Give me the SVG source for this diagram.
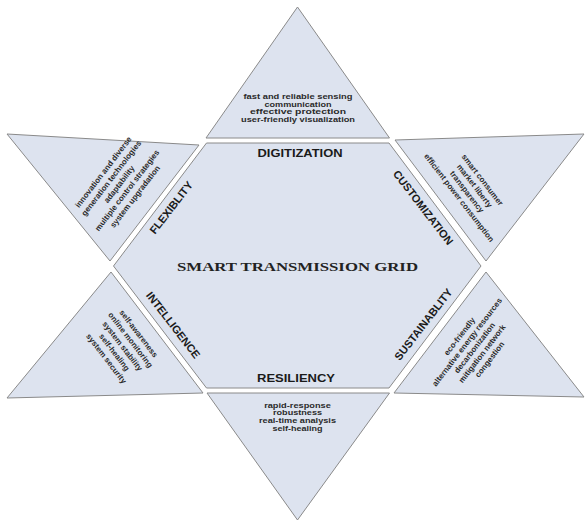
<svg xmlns="http://www.w3.org/2000/svg" width="585" height="522" viewBox="0 0 585 522">
<style>
.shape{fill:#dde3ef;stroke:#8a8a8a;stroke-width:1;stroke-linejoin:miter}
.lbl{font-family:"Liberation Sans",Arial,sans-serif;font-weight:bold;font-size:11px;fill:#1a1a1a;text-anchor:middle}
.item{font-family:"Liberation Sans",Arial,sans-serif;font-weight:bold;font-size:8px;fill:#2a2a2a;text-anchor:middle}
.itemh{font-family:"Liberation Sans",Arial,sans-serif;font-weight:bold;font-size:7.5px;fill:#2a2a2a;text-anchor:middle}
.title{font-family:"Liberation Serif","Times New Roman",serif;font-weight:bold;font-size:13.5px;fill:#222;text-anchor:middle}
</style>
<rect width="585" height="522" fill="#ffffff"/>
<g id="connectors"/>
<g id="hub">
<polygon class="shape" points="206.5,143 389,143 481,266 389,388 206.5,388 113.5,266"/>
<text class="title" x="297.5" y="270.5" textLength="241" lengthAdjust="spacingAndGlyphs">SMART TRANSMISSION GRID</text>
</g>
<g id="digitization">
<polygon class="shape" points="297.5,7 389.5,138 206,138"/>
<text class="itemh" x="298" y="99" textLength="109" lengthAdjust="spacingAndGlyphs">fast and reliable sensing</text>
<text class="itemh" x="298" y="106.7" textLength="67" lengthAdjust="spacingAndGlyphs">communication</text>
<text class="itemh" x="298" y="114.4" textLength="96" lengthAdjust="spacingAndGlyphs">effective protection</text>
<text class="itemh" x="298" y="122.2" textLength="114" lengthAdjust="spacingAndGlyphs">user-friendly visualization</text>
<text class="lbl" x="300" y="156.5" textLength="85" lengthAdjust="spacingAndGlyphs">DIGITIZATION</text>
</g>
<g id="resiliency">
<polygon class="shape" points="207,393 389.5,393 297.5,520"/>
<text class="itemh" x="297.5" y="407.5" textLength="66.7" lengthAdjust="spacingAndGlyphs">rapid-response</text>
<text class="itemh" x="297.5" y="415.2" textLength="49" lengthAdjust="spacingAndGlyphs">robustness</text>
<text class="itemh" x="297.5" y="422.9" textLength="77" lengthAdjust="spacingAndGlyphs">real-time analysis</text>
<text class="itemh" x="297.5" y="430.5" textLength="50" lengthAdjust="spacingAndGlyphs">self-healing</text>
<text class="lbl" x="296" y="382" textLength="78" lengthAdjust="spacingAndGlyphs">RESILIENCY</text>
</g>
<g id="flexibility">
<polygon class="shape" points="7,134 199,145 110,261"/>
<g transform="translate(119.2,184.3) rotate(-52.4)">
<text class="item" x="0" y="-17.3">innovation and diverse</text>
<text class="item" x="0" y="-7.3">generation technologies</text>
<text class="item" x="0" y="2.7">adaptability</text>
<text class="item" x="0" y="12.7">multiple control strategies</text>
<text class="item" x="0" y="22.7">system upgradation</text>
</g>
<text class="lbl" transform="translate(171,207.5) rotate(-52.4)" x="0" y="4">FLEXIBLITY</text>
</g>
<g id="customization">
<polygon class="shape" points="395,140 584,134 486,261"/>
<g transform="translate(470.8,188.8) rotate(52.4)">
<text class="item" x="0" y="-12">smart consumer</text>
<text class="item" x="0" y="-2.2">market liberty</text>
<text class="item" x="0" y="7.6">transparency</text>
<text class="item" x="0" y="17.4">efficient power consumption</text>
</g>
<text class="lbl" transform="translate(423.3,207.5) rotate(52.4)" x="0" y="4">CUSTOMIZATION</text>
</g>
<g id="intelligence">
<polygon class="shape" points="111,272 203,393 7,398"/>
<g transform="translate(122.5,346.1) rotate(52.4)">
<text class="item" x="0" y="-17.7">self-awareness</text>
<text class="item" x="0" y="-7.5">online monitoring</text>
<text class="item" x="0" y="2.7">system stability</text>
<text class="item" x="0" y="12.9">self-healing</text>
<text class="item" x="0" y="23.1">system security</text>
</g>
<text class="lbl" transform="translate(173.3,325) rotate(52.4)" x="0" y="4">INTELLIGENCE</text>
</g>
<g id="sustainability">
<polygon class="shape" points="486,272 584,397 394,393"/>
<g transform="translate(474.6,347.9) rotate(-52.4)">
<text class="item" x="0" y="-16.3">eco-friendly</text>
<text class="item" x="0" y="-6.8">alternative energy resources</text>
<text class="item" x="0" y="2.7">decarbonization</text>
<text class="item" x="0" y="12.2">mitigation network</text>
<text class="item" x="0" y="21.7">congestion</text>
</g>
<text class="lbl" transform="translate(423.3,324.2) rotate(-52.4)" x="0" y="4">SUSTAINABLITY</text>
</g>
</svg>
